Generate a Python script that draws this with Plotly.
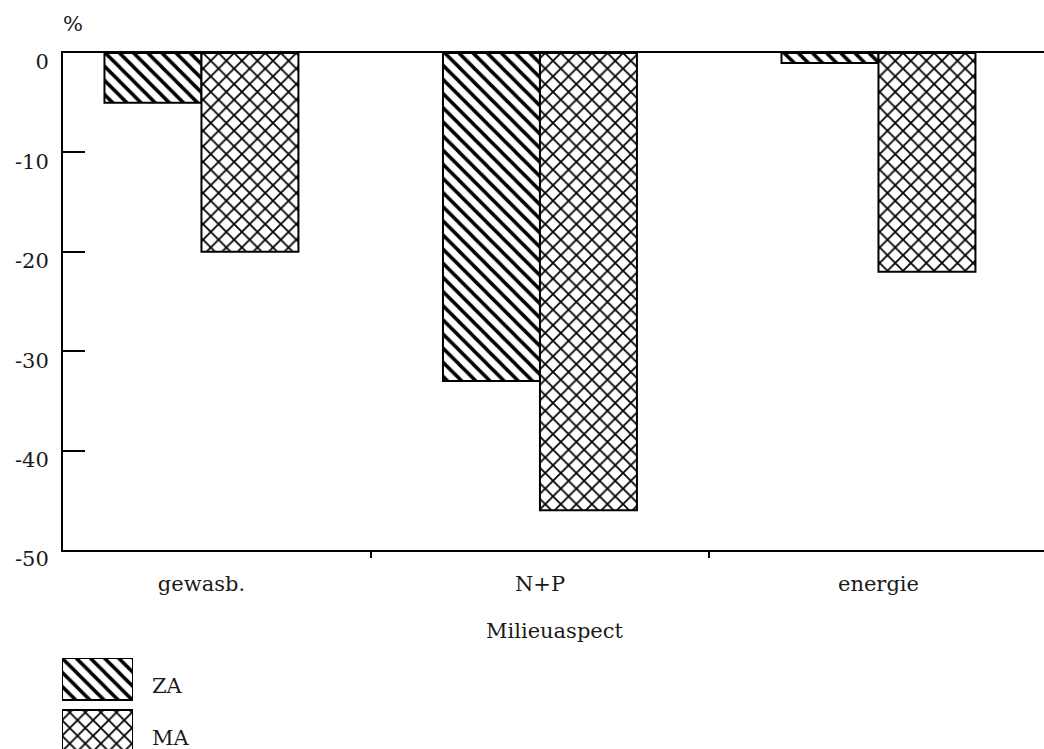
import plotly.graph_objects as go

categories = ["gewasb.", "N+P", "energie"]
series_names = ["ZA", "MA"]
za_values = [-5, -33, -1]
ma_values = [-20, -46, -22]
y_tickvals = [0, -10, -20, -30, -40, -50]
y_ticktext = ["0", "-10", "-20", "-30", "-40", "-50"]
legend_x = [1, 1]

W, H = 1044, 749
FONT = dict(family="DejaVu Serif", size=21, color="#1a1a1a")

def px_x(p):
    return p / W

def px_y(p):
    return 1 - p / H

fig = go.Figure()

fig.add_trace(go.Bar(
    x=categories, y=za_values, name=series_names[0],
    marker=dict(color="white", line=dict(color="black", width=2),
                pattern=dict(shape="\\", size=10, solidity=0.35,
                             fgcolor="black", bgcolor="white", fillmode="replace")),
    showlegend=False, xaxis="x", yaxis="y",
))
fig.add_trace(go.Bar(
    x=categories, y=ma_values, name=series_names[1],
    marker=dict(color="white", line=dict(color="black", width=2),
                pattern=dict(shape="x", size=11, solidity=0.3,
                             fgcolor="black", bgcolor="white", fillmode="replace")),
    showlegend=False, xaxis="x", yaxis="y",
))

# legend swatches drawn as a small bar chart
fig.add_trace(go.Bar(
    x=legend_x, y=series_names, orientation="h", width=0.808,
    marker=dict(color="white", line=dict(color="black", width=2),
                pattern=dict(shape=["\\", "x"], size=[10, 11], solidity=[0.35, 0.3],
                             fgcolor="black", bgcolor="white", fillmode="replace")),
    showlegend=False, xaxis="x2", yaxis="y2", hoverinfo="skip",
))

fig.update_layout(
    width=W, height=H, autosize=False,
    margin=dict(l=0, r=0, t=0, b=0, pad=0),
    paper_bgcolor="white", plot_bgcolor="white",
    barmode="group", bargap=0.427, bargroupgap=0,
    font=FONT,
    xaxis=dict(
        domain=[px_x(63), 1], type="category", categoryorder="array",
        categoryarray=categories, range=[-0.409, 2.489],
        showline=True, linecolor="black", linewidth=2, mirror=True,
        ticks="outside", ticklen=6, tickwidth=2, tickcolor="black",
        tickson="boundaries", ticklabelstandoff=14, automargin=False,
        showgrid=False, zeroline=False, tickfont=FONT, anchor="y",
    ),
    yaxis=dict(
        domain=[px_y(550), px_y(53)], range=[-50, 0],
        tickvals=y_tickvals, ticktext=y_ticktext,
        showline=True, linecolor="black", linewidth=2, mirror=False,
        ticks="inside", ticklen=22, tickwidth=2, tickcolor="black",
        ticklabelshift=9, ticklabelstandoff=8, automargin=False,
        showgrid=False, zeroline=False, tickfont=FONT, anchor="x",
    ),
    xaxis2=dict(
        domain=[px_x(62), px_x(133)], range=[0, 1], visible=False,
        anchor="y2", fixedrange=True, automargin=False,
    ),
    yaxis2=dict(
        domain=[0, px_y(658)], type="category", categoryorder="array",
        categoryarray=series_names, range=[1.346, -0.404],
        side="right", anchor="x2", showline=False, ticks="",
        showgrid=False, zeroline=False, tickfont=FONT, automargin=False,
        ticklabelstandoff=18, ticklabelshift=-7,
    ),
    annotations=[
        dict(text="%", x=px_x(73), y=px_y(24), xref="paper", yref="paper",
             showarrow=False, font=FONT, xanchor="center", yanchor="middle"),
        dict(text="Milieuaspect", x=px_x(555), y=px_y(631), xref="paper", yref="paper",
             showarrow=False, font=FONT, xanchor="center", yanchor="middle"),
    ],
)

post = (
    "document.body.style.margin='0';"
    "document.body.style.padding='0';"
    "document.body.style.overflow='hidden';"
    "var gd=document.getElementById('{plot_id}');"
    "Plotly.relayout(gd,{width:1044,height:749});"
)

fig.write_html("out.html",
               config={"responsive": False, "displayModeBar": False},
               post_script=post)
